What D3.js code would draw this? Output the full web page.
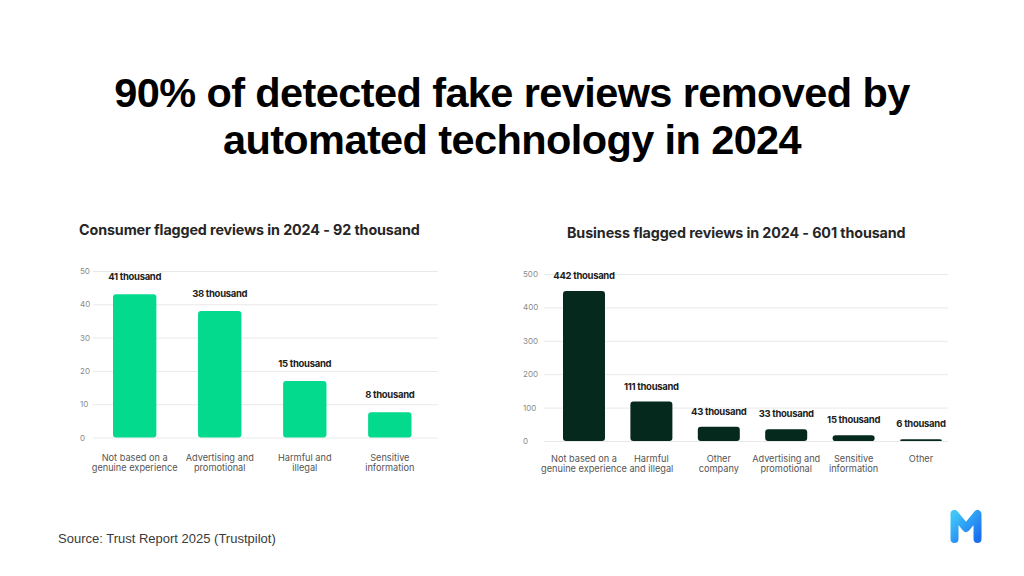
<!DOCTYPE html>
<html>
<head>
<meta charset="utf-8">
<script src="https://cdn.jsdelivr.net/npm/d3@7"></script>
<style>
  body { margin: 0; background: #fff; }
  svg { display: block; }
  .tick-label { font-family: Inter, sans-serif; font-size: 8px; fill: #8a8a8a; }
  .val-label { font-family: Inter, sans-serif; font-weight: 700; font-size: 9.5px; fill: #1d1d1d; letter-spacing: -0.3px; }
  .cat-label { font-family: Inter, sans-serif; font-size: 9.2px; fill: #555; }
  .sub-title { font-family: Inter, sans-serif; font-weight: 700; font-size: 14.3px; fill: #262626; letter-spacing: -0.1px; }
</style>
</head>
<body>
<div id="chart"></div>
<script>
// main heading
var titleLines = ["90% of detected fake reviews removed by", "automated technology in 2024"];
var source = "Source: Trust Report 2025 (Trustpilot)";

// consumer flagged reviews (thousands)
var consumerTitle = "Consumer flagged reviews in 2024 - 92 thousand";
var consumerCats = [["Not based on a", "genuine experience"], ["Advertising and", "promotional"], ["Harmful and", "illegal"], ["Sensitive", "information"]];
var consumerValues = [43, 38, 17, 7.6];
var consumerLabels = ["41 thousand", "38 thousand", "15 thousand", "8 thousand"];
var consumerTicks = [0, 10, 20, 30, 40, 50];

// business flagged reviews (thousands)
var businessTitle = "Business flagged reviews in 2024 - 601 thousand";
var businessCats = [["Not based on a", "genuine experience"], ["Harmful", "and illegal"], ["Other", "company"], ["Advertising and", "promotional"], ["Sensitive", "information"], ["Other"]];
var businessValues = [449, 118, 43, 35, 17, 5];
var businessLabels = ["442 thousand", "111 thousand", "43 thousand", "33 thousand", "15 thousand", "6 thousand"];
var businessTicks = [0, 100, 200, 300, 400, 500];

var W = 1024, H = 576;
var svg = d3.select("#chart").append("svg")
    .attr("width", W)
    .attr("height", H);

svg.append("text")
    .attr("x", W / 2)
    .attr("y", 93)
    .attr("text-anchor", "middle")
    .style("font-family", "'Liberation Sans', Arial, sans-serif")
    .style("font-weight", "700")
    .style("font-size", "41.5px")
    .style("letter-spacing", "-0.6px")
    .style("fill", "#000")
    .selectAll("tspan")
    .data(titleLines)
    .enter().append("tspan")
      .attr("x", W / 2)
      .attr("dy", function(d, i) { return i === 0 ? 14 : 47; })
      .text(function(d) { return d; });

function drawPanel(opt) {
    var g = svg.append("g");

    g.append("text")
        .attr("class", "sub-title")
        .attr("x", opt.titleX)
        .attr("y", opt.titleY)
        .text(opt.title);

    var y = d3.scaleLinear()
        .domain([0, d3.max(opt.ticks)])
        .range([opt.y0, opt.y1]);

    var x = d3.scaleBand()
        .domain(d3.range(opt.values.length))
        .range([opt.barLeft, opt.barRight])
        .paddingInner(opt.padding)
        .paddingOuter(0);

    // grid + tick labels
    var axis = g.append("g")
        .attr("transform", "translate(" + opt.gridLeft + ",0)")
        .call(d3.axisLeft(y)
            .tickValues(opt.ticks)
            .tickSize(-(opt.gridRight - opt.gridLeft))
            .tickPadding(0));
    axis.select(".domain").remove();
    axis.selectAll(".tick line").attr("stroke", "#e9e9e9").attr("stroke-width", 1);
    axis.selectAll(".tick text")
        .attr("class", "tick-label")
        .attr("text-anchor", "start")
        .attr("x", opt.tickX - opt.gridLeft)
        .attr("dy", "0.32em")
        .style("font-size", null).style("font-family", null).attr("fill", null);

    g.selectAll(".bar")
        .data(opt.values)
        .enter().append("rect")
        .attr("class", "bar")
        .attr("x", function(d, i) { return x(i); })
        .attr("y", function(d) { return y(d); })
        .attr("width", x.bandwidth())
        .attr("height", function(d) { return y(0) - y(d); })
        .attr("rx", 3)
        .attr("fill", opt.color);

    g.selectAll(".val-label")
        .data(opt.values)
        .enter().append("text")
        .attr("class", "val-label")
        .attr("x", function(d, i) { return x(i) + x.bandwidth() / 2; })
        .attr("y", function(d) { return y(d) - opt.labelGap; })
        .attr("text-anchor", "middle")
        .text(function(d, i) { return opt.labels[i]; });

    var cats = g.selectAll(".cat-label")
        .data(opt.cats)
        .enter().append("text")
        .attr("class", "cat-label")
        .attr("text-anchor", "middle")
        .attr("y", opt.catY);
    cats.selectAll("tspan")
        .data(function(d, i) { return d.map(function(s) { return {s: s, i: i}; }); })
        .enter().append("tspan")
        .attr("x", function(d) { return x(d.i) + x.bandwidth() / 2; })
        .attr("dy", function(d, j) { return j === 0 ? 0 : 10; })
        .text(function(d) { return d.s; });
}

drawPanel({
    title: consumerTitle, titleX: 79, titleY: 235,
    values: consumerValues, labels: consumerLabels, cats: consumerCats, ticks: consumerTicks,
    y0: 437.5, y1: 271,
    barLeft: 113, barRight: 411.5, padding: 0.49,
    gridLeft: 93, gridRight: 438, tickX: 80,
    labelGap: 14, catY: 461, color: "#04da8d"
});

drawPanel({
    title: businessTitle, titleX: 567, titleY: 238,
    values: businessValues, labels: businessLabels, cats: businessCats, ticks: businessTicks,
    y0: 441, y1: 274,
    barLeft: 563, barRight: 942, padding: 0.377,
    gridLeft: 544, gridRight: 948, tickX: 523,
    labelGap: 12, catY: 462, color: "#05291d"
});

svg.append("text")
    .attr("x", 58)
    .attr("y", 543)
    .style("font-family", "'Liberation Sans', Arial, sans-serif")
    .style("font-size", "13px")
    .style("fill", "#3a3a3a")
    .text(source);

// logo mark
var defs = svg.append("defs");
var grad = defs.append("linearGradient")
    .attr("id", "logoGrad")
    .attr("x1", "0").attr("y1", "0").attr("x2", "1").attr("y2", "1");
grad.append("stop").attr("offset", "0").attr("stop-color", "#3fc6f8");
grad.append("stop").attr("offset", "1").attr("stop-color", "#1b6ff0");
svg.append("path")
    .attr("d", "M954.5,539 L954.5,514 L966,528 L977.5,514 L977.5,539")
    .attr("fill", "none")
    .attr("stroke", "url(#logoGrad)")
    .attr("stroke-width", 8)
    .attr("stroke-linejoin", "round")
    .attr("stroke-linecap", "round");
</script>
</body>
</html>
